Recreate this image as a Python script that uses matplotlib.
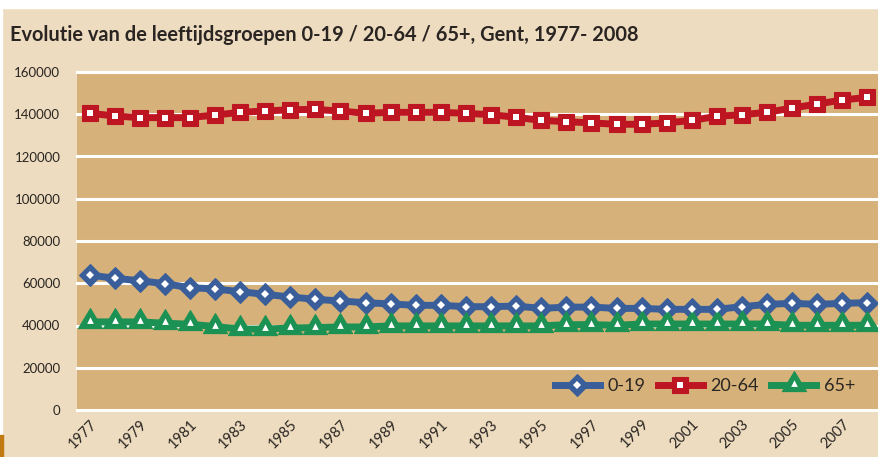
import matplotlib
matplotlib.use("Agg")
import matplotlib.pyplot as plt
import numpy as np
from matplotlib.path import Path
from matplotlib.legend_handler import HandlerTuple
from matplotlib.patches import Rectangle

# data (Gent, 1977-2008)
years = list(range(1977, 2009))
age_0_19 = [63900, 62350, 61200, 59800, 57900, 57300, 56000, 54750, 53500, 52400,
            51600, 50800, 50200, 49550, 49550, 48900, 48900, 49200, 48100, 48700,
            48700, 48100, 48100, 47650, 47650, 47650, 48900, 50000, 50500, 50000,
            50500, 50800]
age_20_64 = [140450, 139200, 138400, 138400, 138400, 139650, 140900, 141550, 142150, 142300,
             141500, 140450, 140900, 140900, 140900, 140450, 139800, 138550, 137100, 136500,
             135900, 135250, 135250, 135900, 137100, 139000, 139800, 140900, 142950, 144850,
             146750, 148000]
age_65 = [41700, 41700, 41700, 41100, 40600, 39500, 38300, 38300, 38800, 39000,
          39300, 39300, 39800, 39800, 39800, 39800, 39800, 39800, 39800, 40400,
          40400, 40100, 40700, 40700, 40700, 40700, 40700, 40700, 40100, 40100,
          40100, 40100]
series_labels = ["0-19", "20-64", "65+"]
y_ticks = [0, 20000, 40000, 60000, 80000, 100000, 120000, 140000, 160000]

FIG_BG = "#EDDCBF"
AX_BG = "#D6B27A"
TEXT = "#2A2522"
BLUE = "#3A5E99"
RED = "#BE1522"
GREEN = "#1C9154"

plt.rcParams["font.family"] = ["Lato", "DejaVu Sans"]

fig = plt.figure(figsize=(8.79, 4.57), dpi=100)
fig.patch.set_facecolor(FIG_BG)
# white strip on top / left, little orange tab bottom-left
fig.patches.append(Rectangle((0, 1 - 8 / 457), 1, 8 / 457, transform=fig.transFigure,
                             color="white", zorder=0))
fig.patches.append(Rectangle((0, 0), 2 / 879, 1, transform=fig.transFigure,
                             color="white", zorder=0))
fig.patches.append(Rectangle((0, 0), 3 / 879, 22 / 457, transform=fig.transFigure,
                             color="#C07A10", zorder=1))

ax = fig.add_axes([77 / 879, 47 / 457, 803 / 879, 338 / 457])
ax.set_facecolor(AX_BG)

x = np.arange(len(years))

# triangle marker that sits above the data point like in the original
tri = Path([(0, 14.4), (-12.5, -6.3), (12.5, -6.3), (0, 14.4)],
           [Path.MOVETO, Path.LINETO, Path.LINETO, Path.CLOSEPOLY])
tri_small = Path([(0, 5.5), (-3.5, -1.5), (3.5, -1.5), (0, 5.5)],
                 [Path.MOVETO, Path.LINETO, Path.LINETO, Path.CLOSEPOLY])

handles = []
specs = [
    (age_0_19, BLUE, "D", 11, "D", 4),
    (age_20_64, RED, "s", 11.5, "s", 4),
    (age_65, GREEN, tri, 20, tri_small, 7.5),
]
for vals, col, mk, ms, mk2, ms2 in specs:
    l1, = ax.plot(x, vals, color=col, lw=5, marker=mk, ms=ms, mec=col, mfc=col,
                  mew=0.8, solid_joinstyle="round", zorder=3)
    l2, = ax.plot(x, vals, ls="none", marker=mk2, ms=ms2, mfc="white", mec="white",
                  mew=0, zorder=4)
    handles.append((l1, l2))

ax.set_xlim(-0.5, len(years) - 0.5)
ax.set_ylim(0, 160000)
ax.set_yticks(y_ticks)
ax.set_yticklabels([str(v) for v in y_ticks])
ax.set_xticks(x[::2])
ax.set_xticklabels([str(y) for y in years[::2]], rotation=45, ha="right",
                   rotation_mode="anchor")

ax.yaxis.grid(True, color="white", lw=2.2)
for gl in ax.get_ygridlines():
    gl.set_clip_on(False)
ax.set_axisbelow(True)
for s in ax.spines.values():
    s.set_visible(False)
ax.tick_params(axis="both", length=0, colors=TEXT)
ax.tick_params(axis="y", pad=12, labelsize=9.5)
ax.tick_params(axis="x", pad=5, labelsize=10.5)

leg = ax.legend(handles, series_labels, handler_map={tuple: HandlerTuple(ndivide=1)},
                loc="center right", bbox_to_anchor=(0.98, 0.071), ncol=3, frameon=False,
                fontsize=13, handlelength=2.5, handletextpad=0.4, columnspacing=0.7,
                borderpad=0, labelcolor=TEXT)

fig.text(10 / 879, 1 - 35 / 457, "Evolutie van de leeftijdsgroepen 0-19 / 20-64 / 65+, Gent, 1977- 2008",
         fontsize=14.4, fontweight="bold", color=TEXT, va="center", ha="left")

fig.savefig("out.png", dpi=100, facecolor=FIG_BG)
